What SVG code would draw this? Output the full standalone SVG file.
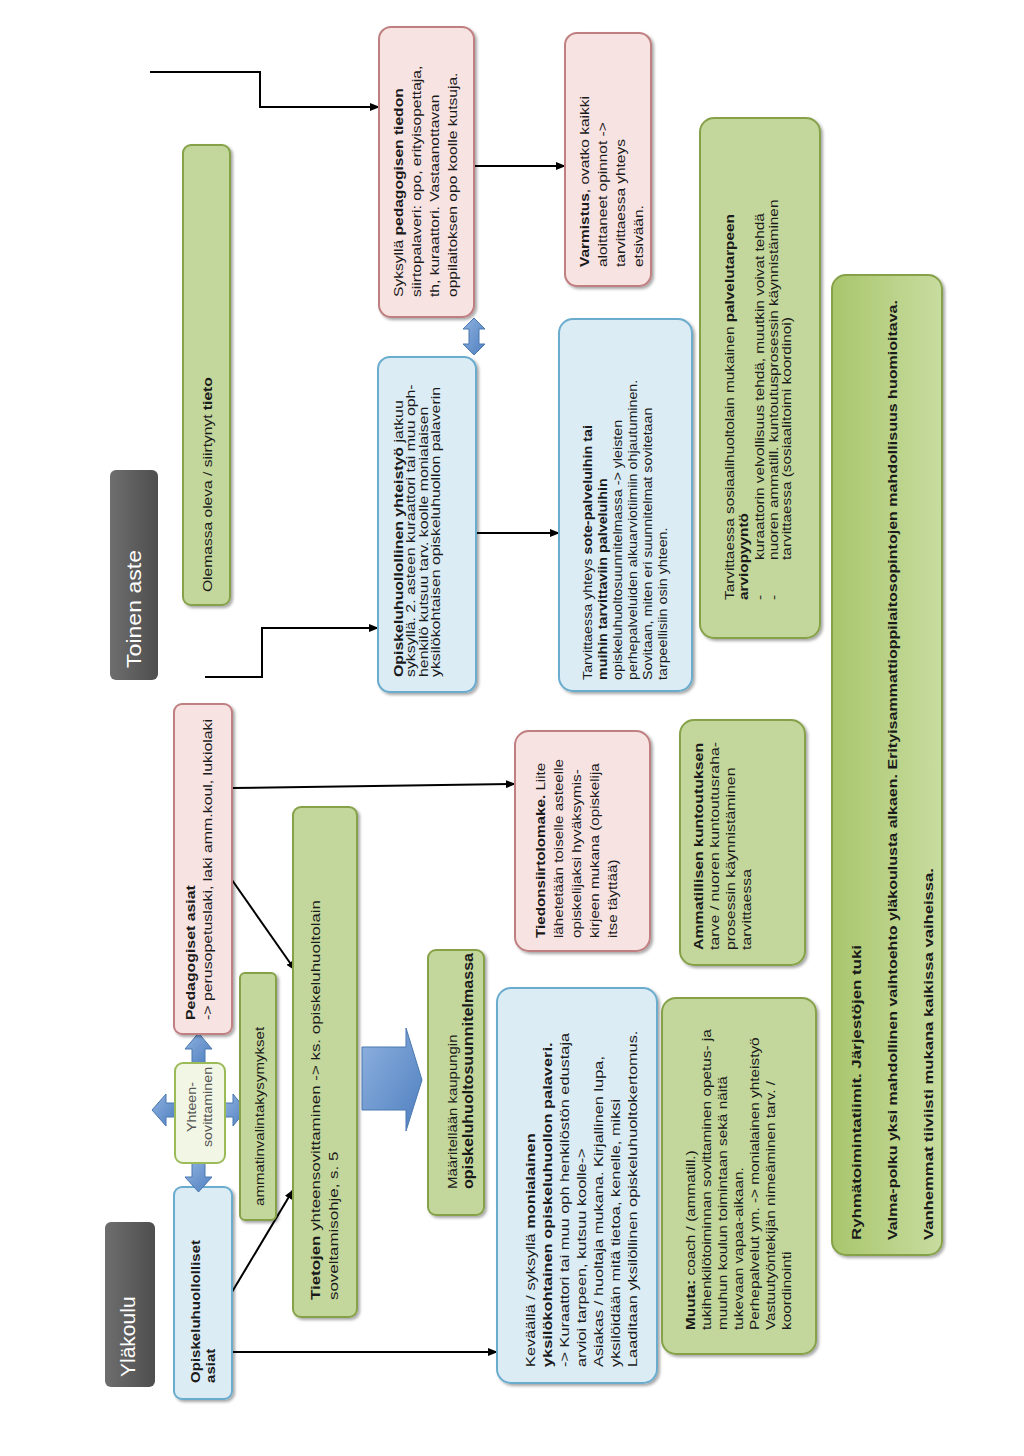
<svg xmlns="http://www.w3.org/2000/svg" width="1024" height="1456" viewBox="0 0 1024 1456">
<style>
.t{font-family:"Liberation Sans",Arial,sans-serif;font-size:13px;fill:#1a1a1a}
.b{font-weight:bold}
.h{font-family:"Liberation Sans",Arial,sans-serif;font-size:21px;fill:#ffffff}
.g{fill:#c3d69b;stroke:#86a24a;stroke-width:2}
.p{fill:#f8e3e3;stroke:#c07f80;stroke-width:2}
.bl{fill:#dcecf5;stroke:#6aaccd;stroke-width:2}
.hd{fill:url(#gray)}
.ar{fill:url(#blue);stroke:#4a78b0;stroke-width:1}
.c{fill:none;stroke:#000;stroke-width:2;marker-end:url(#ah)}
</style>
<defs>
<linearGradient id="gray" x1="0" y1="0" x2="1" y2="0"><stop offset="0" stop-color="#6e6e6e"/><stop offset="1" stop-color="#4e4e4e"/></linearGradient>
<linearGradient id="blue" x1="0" y1="0" x2="1" y2="1"><stop offset="0" stop-color="#8fb2e0"/><stop offset="1" stop-color="#4f7fbf"/></linearGradient>
<linearGradient id="bigg" x1="0" y1="0" x2="1" y2="0"><stop offset="0" stop-color="#a9c66c"/><stop offset="1" stop-color="#c8dca0"/></linearGradient>
<filter id="sh" x="-10%" y="-10%" width="130%" height="130%"><feDropShadow dx="2" dy="2" stdDeviation="1.5" flood-color="#000" flood-opacity="0.35"/></filter>
<marker id="ah" markerWidth="10" markerHeight="8" refX="9" refY="4" orient="auto" markerUnits="userSpaceOnUse"><path d="M0,0 L10,4 L0,8 z" fill="#000"/></marker>
</defs>
<rect width="1024" height="1456" fill="#ffffff"/>

<g id="connectors">
<path class="c" d="M232,1352 L497,1352"/>
<path class="c" d="M232,1292 L293,1190"/>
<path class="c" d="M232,880 L295,970"/>
<path class="c" d="M232,788 L515,784"/>
<path class="c" d="M150,72 L260,72 L260,107 L379,107"/>
<path class="c" d="M205,677 L262,677 L262,628 L378,628"/>
<path class="c" d="M474,166 L565,166"/>
<path class="c" d="M476,533 L559,533"/>
</g>

<g id="ylakoulu">
<rect class="hd" x="105" y="1222" width="50" height="165" rx="6"/>
<text class="h" transform="translate(135,1377) rotate(-90)">Yläkoulu</text>
</g>

<g id="toinen-aste">
<rect class="hd" x="110" y="470" width="48" height="210" rx="6"/>
<text class="h" font-size="20" transform="translate(141,668) rotate(-90) scale(1.1,1)">Toinen aste</text>
</g>

<g id="opiskeluhuollolliset">
<rect class="bl" filter="url(#sh)" x="174" y="1187" width="58" height="212" rx="8"/>
<text class="t b" transform="translate(200,1383) rotate(-90) scale(1.16,1)"><tspan x="0" y="0">Opiskeluhuollolliset</tspan><tspan x="0" y="15">asiat</tspan></text>
</g>

<g id="yhteensovittaminen">
<polygon class="ar" points="192,1063 192,1049 185,1049 198.5,1033 212,1049 205,1049 205,1063"/>
<polygon class="ar" points="192,1163 192,1177 185,1177 198.5,1192 212,1177 205,1177 205,1163"/>
<polygon class="ar" points="175,1103 166,1103 166,1094 152,1110 166,1126 166,1117 175,1117"/>
<polygon class="ar" points="225,1103 233,1103 233,1094 246,1110 233,1126 233,1117 225,1117"/>
<rect x="175" y="1063" width="50" height="100" rx="8" fill="#f2f6e4" stroke="#9bbb59" stroke-width="2"/>
<text class="t" font-size="12.5" text-anchor="middle" transform="translate(196,1107) rotate(-90) scale(1.1,1)" style="fill:#555"><tspan x="0" y="0">Yhteen-</tspan><tspan x="0" y="16">sovittaminen</tspan></text>
</g>

<g id="pedagogiset">
<rect class="p" filter="url(#sh)" x="174" y="704" width="58" height="330" rx="8"/>
<text class="t" transform="translate(195,1020) rotate(-90) scale(1.22,1)"><tspan x="0" y="0" class="b">Pedagogiset asiat</tspan><tspan x="0" y="17">-&gt; perusopetuslaki, laki amm.koul, lukiolaki</tspan></text>
</g>

<g id="ammatinvalinta">
<rect class="g" filter="url(#sh)" x="240" y="973" width="36" height="247" rx="5"/>
<text class="t" font-size="14" transform="translate(264,1206) rotate(-90) scale(1.16,1)">ammatinvalintakysymykset</text>
</g>

<g id="tietojen">
<rect class="g" filter="url(#sh)" x="293" y="807" width="64" height="510" rx="8"/>
<text class="t" font-size="14" transform="translate(320,1300) rotate(-90) scale(1.3,1)"><tspan x="0" y="0"><tspan class="b">Tietojen</tspan> yhteensovittaminen -&gt; ks. opiskeluhuoltolain</tspan><tspan x="0" y="18">soveltamisohje, s. 5</tspan></text>
</g>

<g id="big-arrow">
<polygon class="ar" points="362,1047 406,1047 406,1028 422,1080 406,1131 406,1110 362,1110"/>
</g>

<g id="maaritellaan">
<rect class="g" filter="url(#sh)" x="428" y="950" width="56" height="265" rx="8"/>
<text class="t" transform="translate(457,1189) rotate(-90) scale(1.15,1)"><tspan x="0" y="0">Määritellään kaupungin</tspan><tspan x="0" y="16" class="b" font-size="14">opiskeluhuoltosuunnitelmassa</tspan></text>
</g>

<g id="kevaalla">
<rect class="bl" filter="url(#sh)" x="497" y="988" width="160" height="395" rx="14"/>
<text class="t" font-size="13.5" transform="translate(535,1367) rotate(-90) scale(1.26,1)"><tspan x="0" y="0">Keväällä / syksyllä <tspan class="b">monialainen</tspan></tspan><tspan x="0" y="17" class="b">yksilökohtainen opiskeluhuollon palaveri.</tspan><tspan x="0" y="34">-&gt; Kuraattori tai muu oph henkilöstön edustaja</tspan><tspan x="0" y="51">arvioi tarpeen, kutsuu koolle-&gt;</tspan><tspan x="0" y="68">Asiakas / huoltaja mukana. Kirjallinen lupa,</tspan><tspan x="0" y="85">yksilöidään mitä tietoa, kenelle, miksi</tspan><tspan x="0" y="102">Laaditaan yksilöllinen opiskeluhuoltokertomus.</tspan></text>
</g>

<g id="muuta">
<rect class="g" filter="url(#sh)" x="662" y="998" width="154" height="356" rx="14"/>
<text class="t" transform="translate(695,1330) rotate(-90) scale(1.18,1)"><tspan x="0" y="0"><tspan class="b">Muuta:</tspan> coach / (ammatill.)</tspan><tspan x="0" y="16">tukihenkilötoiminnan sovittaminen opetus- ja</tspan><tspan x="0" y="32">muuhun koulun toimintaan sekä näitä</tspan><tspan x="0" y="48">tukevaan vapaa-aikaan.</tspan><tspan x="0" y="64">Perhepalvelut ym. -&gt; monialainen yhteistyö</tspan><tspan x="0" y="80">Vastuutyöntekijän nimeäminen tarv. /</tspan><tspan x="0" y="96">koordinointi</tspan></text>
</g>

<g id="tiedonsiirtolomake">
<rect class="p" filter="url(#sh)" x="515" y="731" width="135" height="220" rx="14"/>
<text class="t" font-size="13.5" transform="translate(545,938) rotate(-90) scale(1.17,1)"><tspan x="0" y="0"><tspan class="b">Tiedonsiirtolomake.</tspan> Liite</tspan><tspan x="0" y="18">lähetetään toiselle asteelle</tspan><tspan x="0" y="36">opiskelijaksi hyväksymis-</tspan><tspan x="0" y="54">kirjeen mukana (opiskelija</tspan><tspan x="0" y="72">itse täyttää)</tspan></text>
</g>

<g id="ammatillisen">
<rect class="g" filter="url(#sh)" x="680" y="720" width="125" height="245" rx="14"/>
<text class="t" font-size="13.5" transform="translate(703,950) rotate(-90) scale(1.22,1)"><tspan x="0" y="0" class="b">Ammatillisen kuntoutuksen</tspan><tspan x="0" y="16">tarve / nuoren kuntoutusraha-</tspan><tspan x="0" y="32">prosessin käynnistäminen</tspan><tspan x="0" y="48">tarvittaessa</tspan></text>
</g>

<g id="olemassa">
<rect class="g" filter="url(#sh)" x="183" y="145" width="47" height="460" rx="8"/>
<text class="t" transform="translate(212,592) rotate(-90) scale(1.2,1)">Olemassa oleva / siirtynyt <tspan class="b">tieto</tspan></text>
</g>

<g id="opiskeluhuollollinen-yhteistyo">
<rect class="bl" filter="url(#sh)" x="378" y="357" width="98" height="335" rx="12"/>
<text class="t" font-size="12.5" transform="translate(403,677) rotate(-90) scale(1.22,1)"><tspan x="0" y="0"><tspan class="b">Opiskeluhuollollinen yhteistyö</tspan> jatkuu</tspan><tspan x="0" y="12.5">syksyllä. 2. asteen kuraattori tai muu oph-</tspan><tspan x="0" y="25">henkilö kutsuu tarv.  koolle monialaisen</tspan><tspan x="0" y="37.5">yksilökohtaisen opiskeluhuollon palaverin</tspan></text>
</g>

<g id="double-arrow">
<polygon class="ar" points="474,318 485,329 479,329 479,344 485,344 474,355 463,344 469,344 469,329 463,329"/>
</g>

<g id="syksylla-pedagogisen">
<rect class="p" filter="url(#sh)" x="379" y="27" width="95" height="290" rx="12"/>
<text class="t" font-size="12.5" transform="translate(403,297) rotate(-90) scale(1.2,1)"><tspan x="0" y="0">Syksyllä <tspan class="b">pedagogisen tiedon</tspan></tspan><tspan x="0" y="18">siirtopalaveri: opo, erityisopettaja,</tspan><tspan x="0" y="36">th, kuraattori. Vastaanottavan</tspan><tspan x="0" y="54">oppilaitoksen opo koolle kutsuja.</tspan></text>
</g>

<g id="varmistus">
<rect class="p" filter="url(#sh)" x="565" y="33" width="86" height="253" rx="12"/>
<text class="t" font-size="13.5" transform="translate(589,267) rotate(-90) scale(1.19,1)"><tspan x="0" y="0"><tspan class="b">Varmistus</tspan>, ovatko kaikki</tspan><tspan x="0" y="18">aloittaneet opinnot -&gt;</tspan><tspan x="0" y="36">tarvittaessa yhteys</tspan><tspan x="0" y="54">etsivään.</tspan></text>
</g>

<g id="sote">
<rect class="bl" filter="url(#sh)" x="559" y="319" width="133" height="372" rx="14"/>
<text class="t" transform="translate(592,680) rotate(-90) scale(1.1,1)"><tspan x="0" y="0">Tarvittaessa yhteys <tspan class="b">sote-palveluihin tai</tspan></tspan><tspan x="0" y="15" class="b">muihin tarvittaviin palveluihin</tspan><tspan x="0" y="30">opiskeluhuoltosuunnitelmassa -&gt; yleisten</tspan><tspan x="0" y="45">perhepalveluiden alkuarviotiimiin ohjautuminen.</tspan><tspan x="0" y="60">Sovitaan, miten eri suunnitelmat sovitetaan</tspan><tspan x="0" y="75">tarpeellisiin osin yhteen.</tspan></text>
</g>

<g id="sosiaalihuolto">
<rect class="g" filter="url(#sh)" x="700" y="118" width="120" height="520" rx="14"/>
<text class="t" transform="translate(734,600) rotate(-90) scale(1.18,1)"><tspan x="0" y="0">Tarvittaessa sosiaalihuoltolain mukainen <tspan class="b">palvelutarpeen</tspan></tspan><tspan x="0" y="14" class="b">arviopyyntö</tspan><tspan x="0" y="30">-</tspan><tspan x="34" y="30">kuraattorin velvollisuus tehdä, muutkin voivat tehdä</tspan><tspan x="0" y="44">-</tspan><tspan x="34" y="44">nuoren ammatill. kuntoutusprosessin käynnistäminen</tspan><tspan x="34" y="57">tarvittaessa (sosiaalitoimi koordinoi)</tspan></text>
</g>

<g id="ryhmatoiminta">
<rect fill="url(#bigg)" stroke="#86a24a" stroke-width="2" filter="url(#sh)" x="832" y="275" width="110" height="980" rx="14"/>
<text class="t b" font-size="14" transform="translate(861,1240) rotate(-90)" textLength="295" lengthAdjust="spacingAndGlyphs">Ryhmätoimintatiimit. Järjestöjen tuki</text>
<text class="t b" font-size="14" transform="translate(897,1240) rotate(-90)" textLength="940" lengthAdjust="spacingAndGlyphs">Valma-polku yksi mahdollinen vaihtoehto yläkoulusta alkaen. Erityisammattioppilaitosopintojen mahdollisuus huomioitava.</text>
<text class="t b" font-size="14" transform="translate(933,1240) rotate(-90)" textLength="372" lengthAdjust="spacingAndGlyphs">Vanhemmat tiiviisti mukana kaikissa vaiheissa.</text>
</g>
</svg>
